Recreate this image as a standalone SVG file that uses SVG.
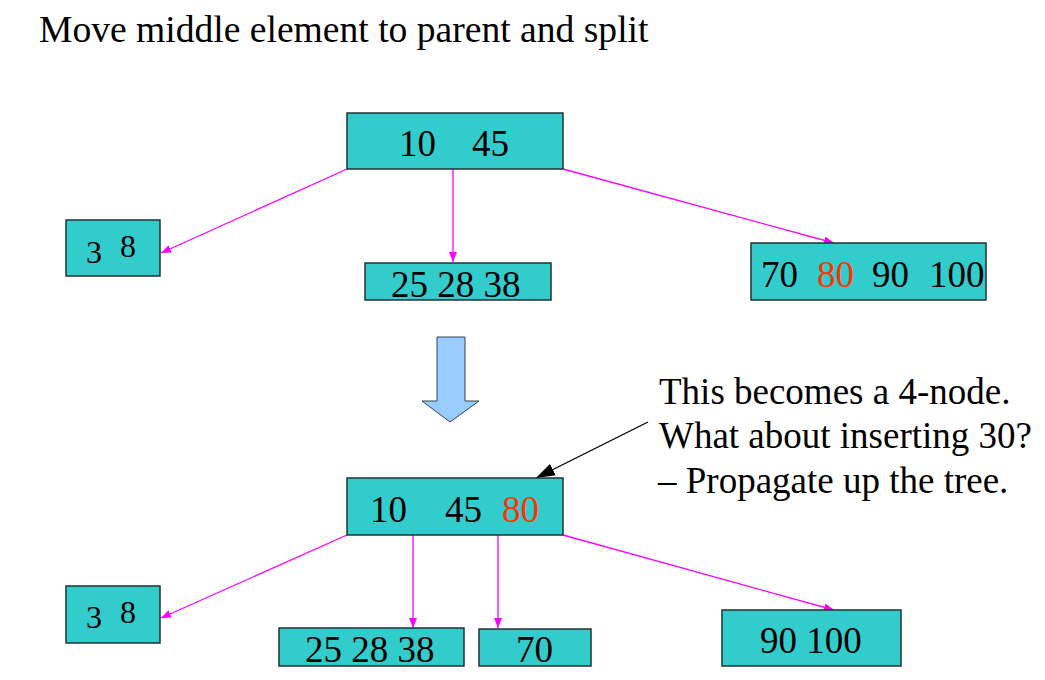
<svg xmlns="http://www.w3.org/2000/svg" width="1045" height="680" viewBox="0 0 1045 680">
<style>
.box{fill:#33CCCC;stroke:#223333;stroke-width:1.5}
.t{font-family:"Liberation Serif","Times New Roman",serif;font-size:37px;fill:#000}
.s{font-family:"Liberation Serif","Times New Roman",serif;font-size:32px;fill:#000}
.red{fill:#FF3300}
.edge{stroke:#FF00FF;stroke-width:1.3;fill:none}
</style>
<defs>
<marker id="mg" markerUnits="userSpaceOnUse" markerWidth="11" markerHeight="9" refX="10" refY="4" orient="auto">
<path d="M0,0 L10,4 L0,8 z" fill="#FF00FF"/>
</marker>
<marker id="bk" markerUnits="userSpaceOnUse" markerWidth="20" markerHeight="14" refX="19" refY="6.5" orient="auto">
<path d="M0,0 L19,6.5 L0,13 z" fill="#000"/>
</marker>
</defs>
<rect width="1045" height="680" fill="#fff"/>
<text class="t" x="39" y="42" style="font-size:37.6px">Move middle element to parent and split</text>

<g id="connectors">
<line class="edge" x1="347" y1="169" x2="161" y2="253" marker-end="url(#mg)"/>
<line class="edge" x1="453" y1="169" x2="453" y2="262" marker-end="url(#mg)"/>
<line class="edge" x1="563" y1="169" x2="834" y2="243" marker-end="url(#mg)"/>
<line class="edge" x1="347" y1="535" x2="161" y2="618" marker-end="url(#mg)"/>
<line class="edge" x1="413" y1="535" x2="413" y2="628" marker-end="url(#mg)"/>
<line class="edge" x1="498" y1="535" x2="498" y2="628" marker-end="url(#mg)"/>
<line class="edge" x1="563" y1="535" x2="834" y2="610" marker-end="url(#mg)"/>
<line x1="648" y1="422" x2="536" y2="478" stroke="#000" stroke-width="1.3" marker-end="url(#bk)"/>
</g>

<g id="root-top">
<rect class="box" x="347" y="113" width="216" height="56"/>
<text class="t" y="156"><tspan x="399">10</tspan><tspan x="472">45</tspan></text>
</g>
<g id="left-top">
<rect class="box" x="66" y="220" width="94" height="56"/>
<text class="s"><tspan x="86" y="263">3</tspan><tspan x="120" y="257">8</tspan></text>
</g>
<g id="mid-top">
<rect class="box" x="365" y="263" width="186" height="37"/>
<text class="t" x="391" y="297">25 28 38</text>
</g>
<g id="right-top">
<rect class="box" x="751" y="243" width="235" height="57"/>
<text class="t" y="287"><tspan x="761">70</tspan><tspan x="817" class="red">80</tspan><tspan x="872">90</tspan><tspan x="929">100</tspan></text>
</g>

<g id="big-arrow">
<polygon points="437,337 465,337 465,401 479,401 450,422 422,401 437,401" fill="#99CCFF" stroke="#334455" stroke-width="1"/>
</g>

<g id="callout">
<text class="t" x="659" y="404">This becomes a 4-node.</text>
<text class="t" x="659" y="448">What about inserting 30?</text>
<text class="t" x="658" y="493">– Propagate up the tree.</text>
</g>

<g id="root-bottom">
<rect class="box" x="347" y="478" width="216" height="57"/>
<text class="t" y="522"><tspan x="370">10</tspan><tspan x="445">45</tspan><tspan x="502" class="red">80</tspan></text>
</g>
<g id="left-bottom">
<rect class="box" x="66" y="586" width="94" height="57"/>
<text class="s"><tspan x="86" y="628">3</tspan><tspan x="120" y="623">8</tspan></text>
</g>
<g id="mid-bottom">
<rect class="box" x="279" y="628" width="185" height="38"/>
<text class="t" x="305" y="662">25 28 38</text>
</g>
<g id="seventy">
<rect class="box" x="479" y="629" width="112" height="37"/>
<text class="t" x="516" y="662">70</text>
</g>
<g id="right-bottom">
<rect class="box" x="722" y="610" width="179" height="56"/>
<text class="t" x="760" y="653">90 100</text>
</g>
</svg>
